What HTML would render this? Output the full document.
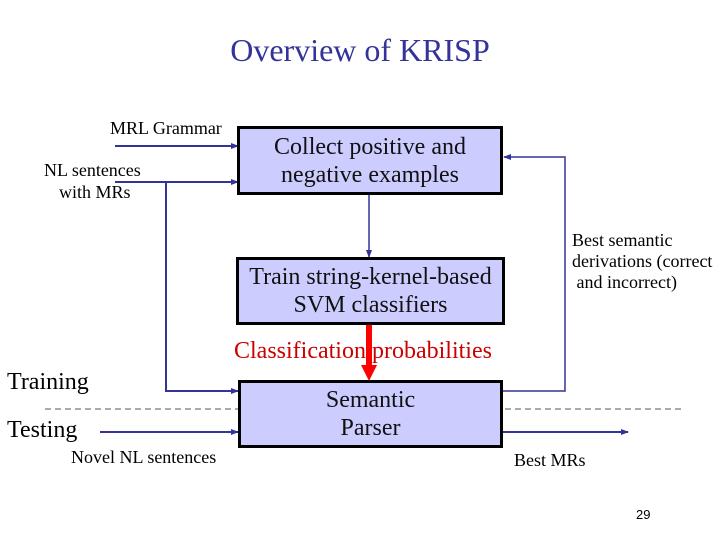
<!DOCTYPE html>
<html><head><style>
body{margin:0;width:720px;height:540px;background:#fff;overflow:hidden;position:relative;font-family:"Liberation Serif",serif}
.t{position:absolute;white-space:nowrap}
.box{position:absolute;background:#ccccff;border:3px solid #000;box-sizing:border-box;display:flex;align-items:center;justify-content:center;text-align:center;font-size:24px;line-height:28px;color:#111}
</style></head><body>
<svg width="720" height="540" style="position:absolute;left:0;top:0">
<defs><marker id="a" markerWidth="8" markerHeight="8" refX="7" refY="4" orient="auto" markerUnits="userSpaceOnUse"><path d="M0,1 L8,4 L0,7z" fill="#333399"/></marker></defs>
<g stroke="#333399" stroke-width="2" fill="none">
<line x1="115" y1="146" x2="238" y2="146" marker-end="url(#a)"/>
<line x1="115" y1="182" x2="238" y2="182" marker-end="url(#a)"/>
<polyline points="166,182 166,391 238,391" marker-end="url(#a)"/>
<line x1="369" y1="195" x2="369" y2="257" stroke-width="1.5" marker-end="url(#a)"/>
<polyline points="503,391 565,391 565,157 504,157" stroke-width="1.5" marker-end="url(#a)"/>
<line x1="100" y1="432" x2="238" y2="432" marker-end="url(#a)"/>
<line x1="502" y1="432" x2="628" y2="432" marker-end="url(#a)"/>
</g>
<line x1="45" y1="409" x2="682" y2="409" stroke="#555" stroke-width="1" stroke-dasharray="6,4"/>
<line x1="369" y1="324" x2="369" y2="366" stroke="#ff0000" stroke-width="6"/>
<path d="M361,365 L377,365 L369,381z" fill="#ff0000"/>
</svg>
<div class="t" style="left:0;width:720px;text-align:center;top:32px;font-size:32px;color:#333399">Overview of KRISP</div>
<div class="t" style="left:110px;top:118px;font-size:18px">MRL Grammar</div>
<div class="t" style="left:44px;top:160px;font-size:18px">NL sentences</div>
<div class="t" style="left:59px;top:182px;font-size:18px">with MRs</div>
<div class="box" style="left:237px;top:126px;width:266px;height:69px">Collect positive and<br>negative examples</div>
<div class="box" style="left:236px;top:257px;width:269px;height:68px">Train string-kernel-based<br>SVM classifiers</div>
<div class="box" style="left:238px;top:380px;width:265px;height:68px">Semantic<br>Parser</div>
<div class="t" style="left:572px;top:230px;font-size:18px;line-height:21px">Best semantic<br>derivations (correct<br>&nbsp;and incorrect)</div>
<div class="t" style="left:234px;top:338px;font-size:24px;color:#cc0000">Classification probabilities</div>
<div class="t" style="left:7px;top:369px;font-size:24px">Training</div>
<div class="t" style="left:7px;top:417px;font-size:24px">Testing</div>
<div class="t" style="left:71px;top:447px;font-size:18px">Novel NL sentences</div>
<div class="t" style="left:514px;top:450px;font-size:18px">Best MRs</div>
<div class="t" style="left:636px;top:507px;font-size:13px;font-family:'Liberation Sans',sans-serif">29</div>
</body></html>
